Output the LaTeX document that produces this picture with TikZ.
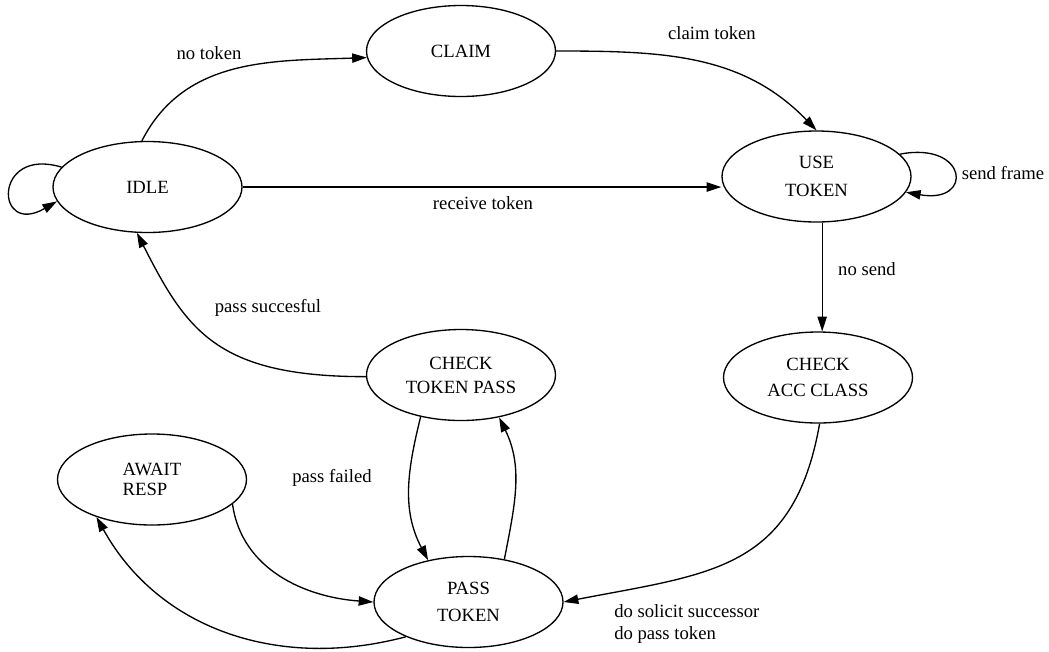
\documentclass[tikz,border=0pt]{standalone}
\usepackage{fontspec}
\setmainfont{Liberation Serif}
\usetikzlibrary{arrows.meta,shapes.geometric}
\tikzset{
  state/.style={draw, ellipse, line width=1pt, minimum width=141.75pt, minimum height=68.25pt,
                inner sep=0pt, align=center, font=\fontsize{14}{15}\selectfont},
  trans/.style={-{Triangle[length=11pt,width=7pt]}, line width=1pt}, % state transition
  lbl/.style={font=\fontsize{14}{15}\selectfont, inner sep=0pt, align=left},
}

\begin{document}
\begin{tikzpicture}[x=0.75pt,y=0.75pt]
  \useasboundingbox (0,0) rectangle (1049,-651);

  % states
  \node[state] (idle)  at (147.5,-187) {IDLE};
  \node[state] (claim) at (461,-51)    {CLAIM};
  \node[state] (use)   at (816.5,-176.5) {USE\\[6pt]TOKEN};
  \node[state] (ctp)   at (461,-375)   {CHECK\\[3pt]TOKEN PASS};
  \node[state] (cac)   at (818,-377.5) {CHECK\\[4pt]ACC CLASS};
  \node[state, align=left] (await) at (152,-479.5) {AWAIT\\RESP};
  \node[state] (pass)  at (468.5,-602) {PASS\\[5pt]TOKEN};

  % transitions
  \draw[trans] (idle.167) to[out=163,in=210,distance=54pt] (idle.189);
  \draw[trans] (idle.97) to[out=63,in=182] (claim.184);
  \draw[trans] (claim.0) to[out=0,in=134] (use.north);
  \draw[trans] (idle.east) -- (idle.east -| use.west);
  \draw[trans] (use.15) to[out=11,in=-10,distance=52pt] (use.-10);
  \draw[trans] (use.-83) -- (use.-83 |- cac.north);
  \draw[trans] (cac.-88) to[out=-100,in=11,distance=112pt] (pass.0);
  \draw[trans] (ctp.181) to[out=180,in=-63,out distance=112pt,in distance=82pt] (idle.257);
  \draw[trans] (ctp.226) to[out=-104,in=118] (pass.134);
  \draw[trans] (pass.50) to[out=79,in=-64] (ctp.-48);
  \draw[trans] (await.-17) to[out=-82,in=176] (pass.180);
  \draw[trans] (pass.209) to[out=195,in=-61] (await.214);

  % labels
  \node[lbl] (nt) at (209,-53)   {no token};
  \node[lbl] (ct) at (712,-33)   {claim token};
  \node[lbl] (rt) at (483,-203)  {receive token};
  \node[lbl] (sf) at (1003,-173) {send frame};
  \node[lbl] (ns) at (867,-269)  {no send};
  \node[lbl] (ps) at (268,-308)  {pass succesful};
  \node[lbl] (pf) at (332,-478)  {pass failed};
  \node[lbl, anchor=west] (ds) at (614,-624) {do solicit successor\\[2pt]do pass token};
\end{tikzpicture}
\end{document}
